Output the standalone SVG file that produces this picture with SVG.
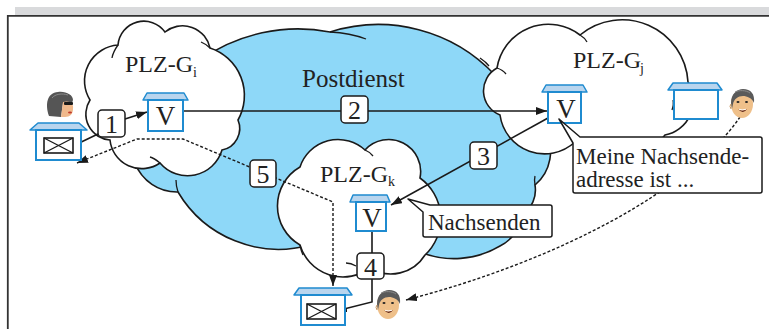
<svg xmlns="http://www.w3.org/2000/svg" xmlns:xlink="http://www.w3.org/1999/xlink" width="769" height="329" viewBox="0 0 769 329">
  <style>
    .sky { fill: #8ed8f8; stroke: #1a1a1a; stroke-width: 1.6; }
    .cloud { fill: #ffffff; stroke: #1a1a1a; stroke-width: 1.6; }
    .tail { fill: none; stroke: #1a1a1a; stroke-width: 1.3; }
    .roof { fill: #b9d5ee; stroke: #1f8bd0; stroke-width: 1.5; stroke-linejoin: round; }
    .body { fill: #ffffff; stroke: #1f8bd0; stroke-width: 2; }
    .env { fill: #ffffff; stroke: #1a1a1a; stroke-width: 1.6; }
    .num { fill: #ffffff; stroke: #1a1a1a; stroke-width: 1.5; }
    .callout { fill: #ffffff; stroke: #1a1a1a; stroke-width: 1.5; stroke-linejoin: round; }
    .line { fill: none; stroke: #1a1a1a; stroke-width: 1.6; }
    .dot { fill: none; stroke: #1a1a1a; stroke-width: 1.4; stroke-dasharray: 3 2; }
    text { font-family: "Liberation Serif", "Times New Roman", serif; fill: #222222; }
    .lbl { font-size: 24px; }
    .sub { font-size: 14px; }
    .n { font-size: 26px; text-anchor: middle; }
    .v { font-size: 27px; text-anchor: middle; }
    .ct { font-size: 23px; }
  </style>
  <defs>
    <marker id="ah" viewBox="0 0 11 8" refX="11" refY="4" markerWidth="11" markerHeight="8" markerUnits="userSpaceOnUse" orient="auto-start-reverse">
      <path d="M0,0 L11,4 L0,8 Z" fill="#1a1a1a"/>
    </marker>
    <!-- envelope with crossed flap lines -->
    <g id="envelope">
      <rect class="env" x="0" y="0" width="29" height="15"/>
      <path d="M0,0 L29,15 M29,0 L0,15" stroke="#1a1a1a" stroke-width="1.4"/>
    </g>
    <!-- small portrait of a man -->
    <g id="man">
      <ellipse cx="0" cy="2" rx="11" ry="14" fill="#efc08a"/>
      <path d="M-11,1 C-11,-8 -5,-13 1,-13 C9,-13 13,-8 12,1 C10,-4 5,-6 1,-6 C-4,-6 -8,-3 -9,2 L-10,7 Z" fill="#5a5a5a"/>
      <path d="M-7,-10 C-3,-12 4,-12 8,-9" fill="none" stroke="#8a8a8a" stroke-width="1"/>
      <ellipse cx="-4" cy="0" rx="1.5" ry="1" fill="#222"/>
      <ellipse cx="4.5" cy="0" rx="1.5" ry="1" fill="#222"/>
      <path d="M-4,7 Q0,10 5,7 Q1,13 -4,7 Z" fill="#5b1d12"/>
      <path d="M-3,7.3 Q0,8.4 4,7.3" fill="none" stroke="#ffffff" stroke-width="0.9"/>
      <path d="M-11,2 q-2,2 0,5" fill="none" stroke="#c9965f" stroke-width="1"/>
    </g>
  </defs>

  <!-- page frame -->
  <g id="frame">
    <rect x="15" y="7" width="754" height="8" fill="#d9dadc"/>
    <path d="M7.8,329 V15.8 H769" fill="none" stroke="#333333" stroke-width="1.8"/>
  </g>

  <!-- postal service area -->
  <g id="postdienst">
    <path class="sky" d="M200,60 A170,170 0 0 1 330,32 A160,160 0 0 1 495,75 L545,130 A44,44 0 0 1 535,185 A30,30 0 0 1 522,215 A40,40 0 0 1 500,246 A90,90 0 0 1 420,252 L310,245 A117,117 0 0 1 178,192 A45,45 0 0 1 135,163 L150,120 Z"/>
    <path class="tail" d="M330,32 Q350,33 366,39"/>
    <path class="tail" d="M178,192 Q176,186 176,180"/>
    <path class="tail" d="M535,185 Q534,180 535,176"/>
    <path class="tail" d="M480,58 Q486,62 489,66"/>
    <text class="lbl" x="302" y="87" style="font-size:25px">Postdienst</text>
  </g>

  <!-- postcode area G_i -->
  <g id="plz-gi">
    <path class="cloud" d="M110,140 A26,26 0 0 1 90,100 A36,36 0 0 1 118,45 A26,26 0 0 1 165,32 A28,28 0 0 1 210,48 A50,50 0 0 1 238,120 A22,22 0 0 1 222,150 A36,36 0 0 1 160,163 A32,32 0 0 1 110,140 Z"/>
    <path class="tail" d="M118,45 Q113,52 112,58"/>
    <path class="tail" d="M210,48 Q206,44 201,42"/>
    <path class="tail" d="M160,163 Q154,158 150,157"/>
    <text class="lbl" x="125" y="72">PLZ-G</text>
    <text class="sub" x="193" y="77">i</text>
  </g>

  <!-- postcode area G_j -->
  <g id="plz-gj">
    <path class="cloud" d="M500,115 A26,26 0 0 1 497,68 A52,52 0 0 1 580,35 A66,66 0 0 1 688,82 A35,35 0 0 1 665,135 A60,60 0 0 1 575,142 A45,45 0 0 1 500,115 Z"/>
    <path class="tail" d="M580,35 Q585,38 587,42"/>
    <path class="tail" d="M497,68 Q503,70 506,74"/>
    <path class="tail" d="M672,110 Q674,104 673,100"/>
    <text class="lbl" x="573" y="68">PLZ-G</text>
    <text class="sub" x="640" y="73">j</text>
  </g>

  <!-- postcode area G_k -->
  <g id="plz-gk">
    <path class="cloud" d="M300,245 A45,45 0 0 1 300,167 A40,40 0 0 1 365,150 A32,32 0 0 1 420,178 A50,50 0 0 1 425,255 A40,40 0 0 1 370,268 A45,45 0 0 1 300,245 Z"/>
    <path class="tail" d="M300,245 Q301,251 303,255"/>
    <path class="tail" d="M365,150 Q370,152 373,156"/>
    <path class="tail" d="M346,263 Q351,263 356,266"/>
    <text class="lbl" x="320" y="182">PLZ-G</text>
    <text class="sub" x="388" y="186">k</text>
  </g>

  <!-- connectors -->
  <g id="connectors">
    <path class="line" d="M73,146 L100,133"/>
    <path class="line" d="M125,119 L147,112" marker-end="url(#ah)"/>
    <path class="line" d="M184,111 L547,111" marker-end="url(#ah)"/>
    <path class="line" d="M548,118 L391,205" marker-end="url(#ah)"/>
    <path class="line" d="M372,231 L372,302 L336,311" marker-end="url(#ah)"/>
    <path class="dot" d="M333,286 L333,202 L183,139 L137,139 L77,163" marker-start="url(#ah)" marker-end="url(#ah)"/>
    <path class="dot" d="M740,117 C690,190 560,260 406,300" marker-end="url(#ah)"/>
  </g>

  <!-- sender: house with letter and woman -->
  <g id="sender">
    <path class="roof" d="M38,123 H79 L87,130 H30 Z"/>
    <rect class="body" x="36" y="130" width="45" height="30"/>
    <use xlink:href="#envelope" x="44" y="138"/>
    <g id="woman">
      <path d="M49,116 C45,104 47,93 58,92 C66,91 73,95 73,100 L72,103 L63,103 L61,117 Z" fill="#555555"/>
      <path d="M52,98 C55,94 62,93 68,95" fill="none" stroke="#8a8a8a" stroke-width="1"/>
      <path d="M63,102 C70,100 74,104 73,109 C73,114 70,117 65,117 L61,117 Z" fill="#f0b98c"/>
      <rect x="64" y="102" width="9" height="3" rx="1" fill="#1a1a1a"/>
      <ellipse cx="70" cy="112.5" rx="2" ry="1" fill="#c0392b"/>
    </g>
  </g>

  <!-- forwarding office in G_i -->
  <g id="office-gi">
    <path class="roof" d="M147,93 H184 L188,100 H143 Z"/>
    <rect class="body" x="148" y="100" width="35" height="31"/>
    <text class="v" x="165.5" y="125">V</text>
  </g>

  <!-- forwarding office in G_j -->
  <g id="office-gj">
    <path class="roof" d="M546,85 H583 L587,92 H542 Z"/>
    <rect class="body" x="548" y="92" width="33" height="31"/>
    <text class="v" x="566" y="118">V</text>
  </g>

  <!-- old address house in G_j and the recipient -->
  <g id="old-home">
    <path class="roof" d="M673,83 H717 L722,90 H668 Z"/>
    <rect class="body" x="674" y="90" width="44" height="29"/>
    <use xlink:href="#man" transform="translate(742,102)"/>
  </g>

  <!-- forwarding office in G_k -->
  <g id="office-gk">
    <path class="roof" d="M353,195 H387 L390,202 H350 Z"/>
    <rect class="body" x="356" y="202" width="30" height="29"/>
    <text class="v" x="372" y="227">V</text>
  </g>

  <!-- new address house with letter and recipient -->
  <g id="new-home">
    <path class="roof" d="M299,288 H347 L352,295 H294 Z"/>
    <rect class="body" x="301" y="295" width="44" height="30"/>
    <use xlink:href="#envelope" x="307" y="304"/>
    <use xlink:href="#man" transform="translate(388,303)"/>
  </g>

  <!-- step numbers -->
  <g id="step-1"><rect class="num" x="98" y="110" width="27" height="27" rx="4"/><text class="n" x="111.5" y="133">1</text></g>
  <g id="step-2"><rect class="num" x="341" y="96" width="27" height="27" rx="4"/><text class="n" x="354.5" y="119">2</text></g>
  <g id="step-3"><rect class="num" x="470" y="142" width="27" height="27" rx="4"/><text class="n" x="483.5" y="164.5">3</text></g>
  <g id="step-4"><rect class="num" x="357" y="253" width="27" height="26" rx="4"/><text class="n" x="370.5" y="275.5">4</text></g>
  <g id="step-5"><rect class="num" x="250" y="160" width="26" height="27" rx="4"/><text class="n" x="263" y="183">5</text></g>

  <!-- speech bubbles -->
  <g id="callout-address">
    <path class="callout" d="M580,137 H760 Q762,137 762,139 V191 Q762,193 760,193 H575 Q573,193 573,191 V143 L559,119 Z"/>
    <text class="ct"><tspan x="576" y="164">Meine Nachsende-</tspan><tspan x="576" y="187">adresse ist ...</tspan></text>
  </g>
  <g id="callout-forward">
    <path class="callout" d="M430,205 H550 Q552,205 552,207 V235 Q552,237 550,237 H425 Q423,237 423,235 V212 L408,199 Z"/>
    <text class="ct" x="428" y="230">Nachsenden</text>
  </g>
</svg>
